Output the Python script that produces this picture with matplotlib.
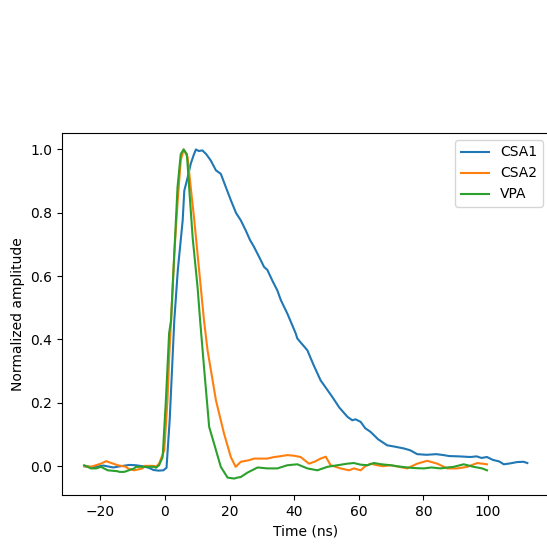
import matplotlib
matplotlib.use("Agg")
import matplotlib.pyplot as plt

# CSA1 (blue)
csa1_t = [-25, -22, -19, -16, -13, -11, -9, -7, -5, -3.5, -2, -0.5, 0.5, 1.5, 2.9, 4.0, 5.5, 6.0, 7.0,
          8.0, 9.0, 9.6, 10.5, 11.6, 12.8, 14.2, 15.8, 17.3, 18.9, 20.4, 22.0, 23.5, 25.0, 26.3, 27.6,
          29.2, 30.7, 31.7, 33.3, 34.8, 35.9, 37.9, 40.5, 41.0, 42.5, 44.1, 46.0, 48.2, 50.0, 51.8,
          54.0, 56.5, 58.0, 59.0, 60.6, 62.0, 63.7, 66.0, 68.8, 71.0, 74.0, 76.0, 78.1, 81.0, 84.0,
          86.3, 88.0, 91.0, 94.6, 96.5, 98.0, 99.7, 101.5, 103.5, 104.9, 107.0, 109.0, 111.0, 112.2]
csa1_v = [0.0, -0.003, 0.002, -0.004, 0.001, 0.004, 0.003, 0.0, -0.005, -0.012, -0.014, -0.013, -0.005, 0.15, 0.46, 0.62, 0.776, 0.87, 0.91,
          0.955, 0.985, 1.0, 0.995, 0.997, 0.985, 0.965, 0.934, 0.923, 0.88, 0.84, 0.80, 0.776, 0.745, 0.715, 0.692,
          0.66, 0.629, 0.62, 0.585, 0.555, 0.524, 0.482, 0.419, 0.403, 0.385, 0.366, 0.32, 0.271, 0.245, 0.219,
          0.185, 0.156, 0.145, 0.148, 0.14, 0.12, 0.108, 0.085, 0.066, 0.062, 0.056, 0.05, 0.038, 0.036, 0.038,
          0.035, 0.032, 0.031, 0.029, 0.031, 0.026, 0.029, 0.02, 0.015, 0.006, 0.009, 0.013, 0.014, 0.01]

# CSA2 (orange)
csa2_t = [-25, -22.9, -19.8, -18.2, -17.7, -14.6, -12, -11.5, -9.5, -6.9, -6.4, -3.3, -2.8, -1.8, -0.2, 0.8, 1.3, 1.9,
          2.9, 3.9, 4.9, 5.8, 7.0, 8.0, 9.1, 10.6, 12.1, 13.2, 15.8, 18.3, 20.4, 21.9, 23.5, 26.1, 27.6,
          29.7, 31.7, 33.8, 34.8, 37.9, 40.0, 42.0, 44.6, 46.5, 48.2, 49.8, 51.3, 54.4, 57.0, 58.5, 60.6,
          62.0, 63.7, 65.7, 67.5, 69.9, 72.5, 75.0, 78.1, 81.2, 84.3, 87.4, 90.5, 93.6, 96.7, 99.7]
csa2_v = [0.0, -0.002, 0.008, 0.016, 0.014, 0.003, -0.002, -0.007, -0.013, -0.007, 0.001, 0.001, -0.002, 0.008, 0.05, 0.21, 0.34, 0.46,
          0.67, 0.83, 0.965, 1.0, 0.976, 0.88, 0.776, 0.618, 0.46, 0.366, 0.208, 0.103, 0.029, -0.002, 0.014, 0.019, 0.024,
          0.024, 0.024, 0.029, 0.03, 0.035, 0.033, 0.029, 0.008, 0.015, 0.024, 0.03, 0.003, -0.007, -0.013, -0.007, -0.013,
          0.0, 0.008, 0.003, 0.0, 0.003, -0.002, -0.007, 0.008, 0.017, 0.008, -0.007, -0.007, -0.002, 0.01, 0.006]

# VPA (green)
vpa_t = [-25, -22.9, -21.3, -19.8, -17.7, -14.6, -14.1, -12.6, -9.5, -9, -6.4, -3.3, -2.8, -1.8, -0.7, 0.3, 1.3, 1.9,
         2.9, 3.9, 4.9, 5.8, 6.8, 7.5, 8.6, 10.1, 10.9, 12.1, 13.7, 15.2, 17.3, 19.4, 21.4, 22.5, 23.5, 25.6,
         28.7, 31.7, 33.8, 34.8, 37.9, 41.0, 44.1, 47.2, 50.3, 53.4, 56.5, 58.5, 60.5, 62.7, 64.7, 67.0,
         69.9, 72.5, 75.0, 77.5, 80.2, 82.5, 85.3, 87.5, 89.4, 92.5, 95.6, 98.2, 99.7]
vpa_v = [0.003, -0.007, -0.007, -0.002, -0.013, -0.016, -0.018, -0.018, -0.007, -0.002, -0.002, -0.002, -0.005, 0.003, 0.029, 0.208, 0.42, 0.46,
         0.67, 0.88, 0.985, 1.0, 0.985, 0.88, 0.72, 0.566, 0.46, 0.313, 0.124, 0.072, -0.002, -0.036, -0.039, -0.036, -0.034, -0.02,
         -0.004, -0.007, -0.007, -0.007, 0.003, 0.006, -0.007, -0.013, -0.002, 0.003, 0.008, 0.01, 0.005, 0.003, 0.01, 0.006,
         0.003, -0.001, -0.004, -0.006, -0.007, -0.004, -0.007, -0.004, -0.002, 0.006, -0.002, -0.007, -0.013]

series_names = ["CSA1", "CSA2", "VPA"]

fig = plt.figure(figsize=(5.47, 5.44), dpi=100)
ax = fig.add_axes([62 / 547, 49 / 544, 487.5 / 547, 362 / 544])
ax.plot(csa1_t, csa1_v, label=series_names[0])
ax.plot(csa2_t, csa2_v, label=series_names[1])
ax.plot(vpa_t, vpa_v, label=series_names[2])
ax.set_xlabel("Time (ns)")
ax.set_ylabel("Normalized amplitude")
ax.legend(loc="upper right")
fig.savefig("out.png", dpi=100)
